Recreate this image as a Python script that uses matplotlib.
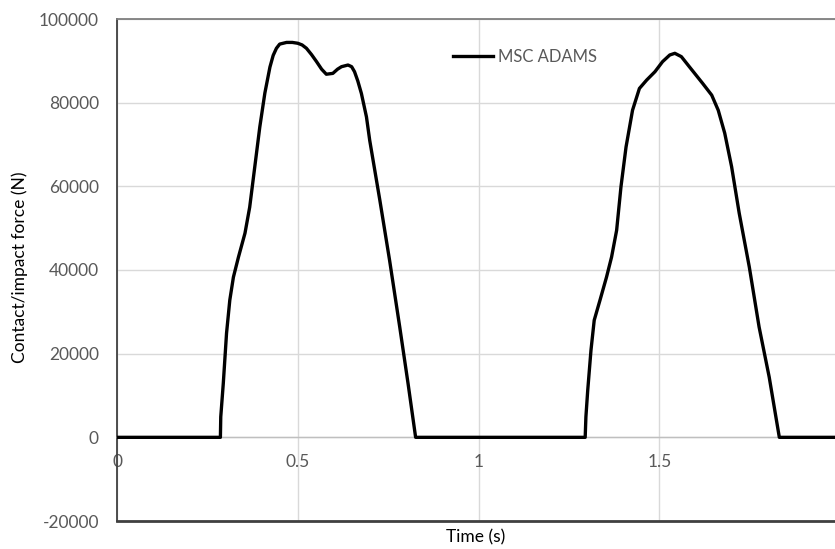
import numpy as np
import matplotlib
matplotlib.use('Agg')
import matplotlib.pyplot as plt

# MSC ADAMS contact force
time = [0.0, 0.286, 0.287, 0.294, 0.303, 0.312, 0.322, 0.336, 0.354, 0.367, 0.381,
        0.395, 0.409, 0.423, 0.432, 0.441, 0.450, 0.469, 0.485, 0.500, 0.512, 0.524,
        0.538, 0.552, 0.566, 0.579, 0.597, 0.610, 0.621, 0.639, 0.649, 0.657, 0.666,
        0.676, 0.690, 0.699, 0.727, 0.754, 0.782, 0.805, 0.826,
        1.295, 1.297, 1.302, 1.311, 1.320, 1.336, 1.354, 1.368, 1.382, 1.394,
        1.408, 1.426, 1.445, 1.465, 1.488, 1.509, 1.529, 1.543, 1.561, 1.583,
        1.620, 1.645, 1.663, 1.681, 1.700, 1.721, 1.749, 1.776, 1.804, 1.832,
        1.986]
force = [0, 0, 4900, 12900, 24900, 32800, 38300, 43100, 48800, 55000, 64600,
         74200, 82300, 88500, 91300, 93000, 94000, 94400, 94400, 94200, 93800, 93000,
         91500, 89800, 88000, 86800, 87000, 88000, 88600, 89000, 88600, 87400, 85200,
         82200, 76600, 71000, 56700, 42300, 26400, 12900, 0,
         0, 4900, 11200, 20800, 28000, 32800, 38300, 43100, 49500, 59900,
         69400, 78200, 83400, 85400, 87400, 89800, 91400, 91800, 91000, 88600,
         84600, 81800, 78200, 72700, 64700, 53600, 40700, 26400, 14400, 0,
         0]

x_ticks = [0, 0.5, 1, 1.5]
x_labels = ['0', '0.5', '1', '1.5']
y_ticks = [-20000, 0, 20000, 40000, 60000, 80000, 100000]

plt.rcParams['font.family'] = ['Lato', 'DejaVu Sans']
plt.rcParams['axes.unicode_minus'] = False
grey = '#595959'

fig = plt.figure(figsize=(8.35, 5.49), dpi=100)
ax = fig.add_axes([117/835, 1-521/549, 1-117/835, (521-19)/549])

ax.plot(time, force, color='black', lw=2.4, label='MSC ADAMS',
        solid_joinstyle='round', zorder=3)

ax.set_xlim(0, 1.986)
ax.set_ylim(-20000, 100000)
ax.set_xticks(x_ticks)
ax.set_xticklabels(x_labels)
ax.set_yticks(y_ticks)
ax.grid(True, color='#d9d9d9', lw=1)
ax.set_axisbelow(True)

# x axis crosses at zero like in excel
ax.spines['bottom'].set_position(('data', 0))
ax.spines['bottom'].set_color('#bfbfbf')
ax.spines['bottom'].set_linewidth(1)
ax.spines['right'].set_visible(False)
ax.spines['top'].set_color('#7f7f7f')
ax.spines['top'].set_linewidth(1.3)
ax.spines['left'].set_color('#404040')
ax.spines['left'].set_linewidth(1.3)
ax.axhline(-20000, color='#404040', lw=2, clip_on=False, zorder=4)

ax.tick_params(axis='both', length=0, labelsize=12.5, labelcolor=grey)
ax.tick_params(axis='x', pad=12)
ax.tick_params(axis='y', pad=13)

fig.text(476/835, 1-537/549, 'Time (s)', fontsize=12.5, color='black',
         ha='center', va='center')
fig.text(20/835, 1-267/549, 'Contact/impact force (N)', fontsize=12.5,
         color='black', ha='center', va='center', rotation=90)

leg = ax.legend(loc='center left', bbox_to_anchor=(0.458, 0.924), frameon=False,
                handlelength=2.4, handletextpad=0.3, fontsize=12, borderaxespad=0)
for t in leg.get_texts():
    t.set_color(grey)

fig.savefig('out.png', dpi=100)
